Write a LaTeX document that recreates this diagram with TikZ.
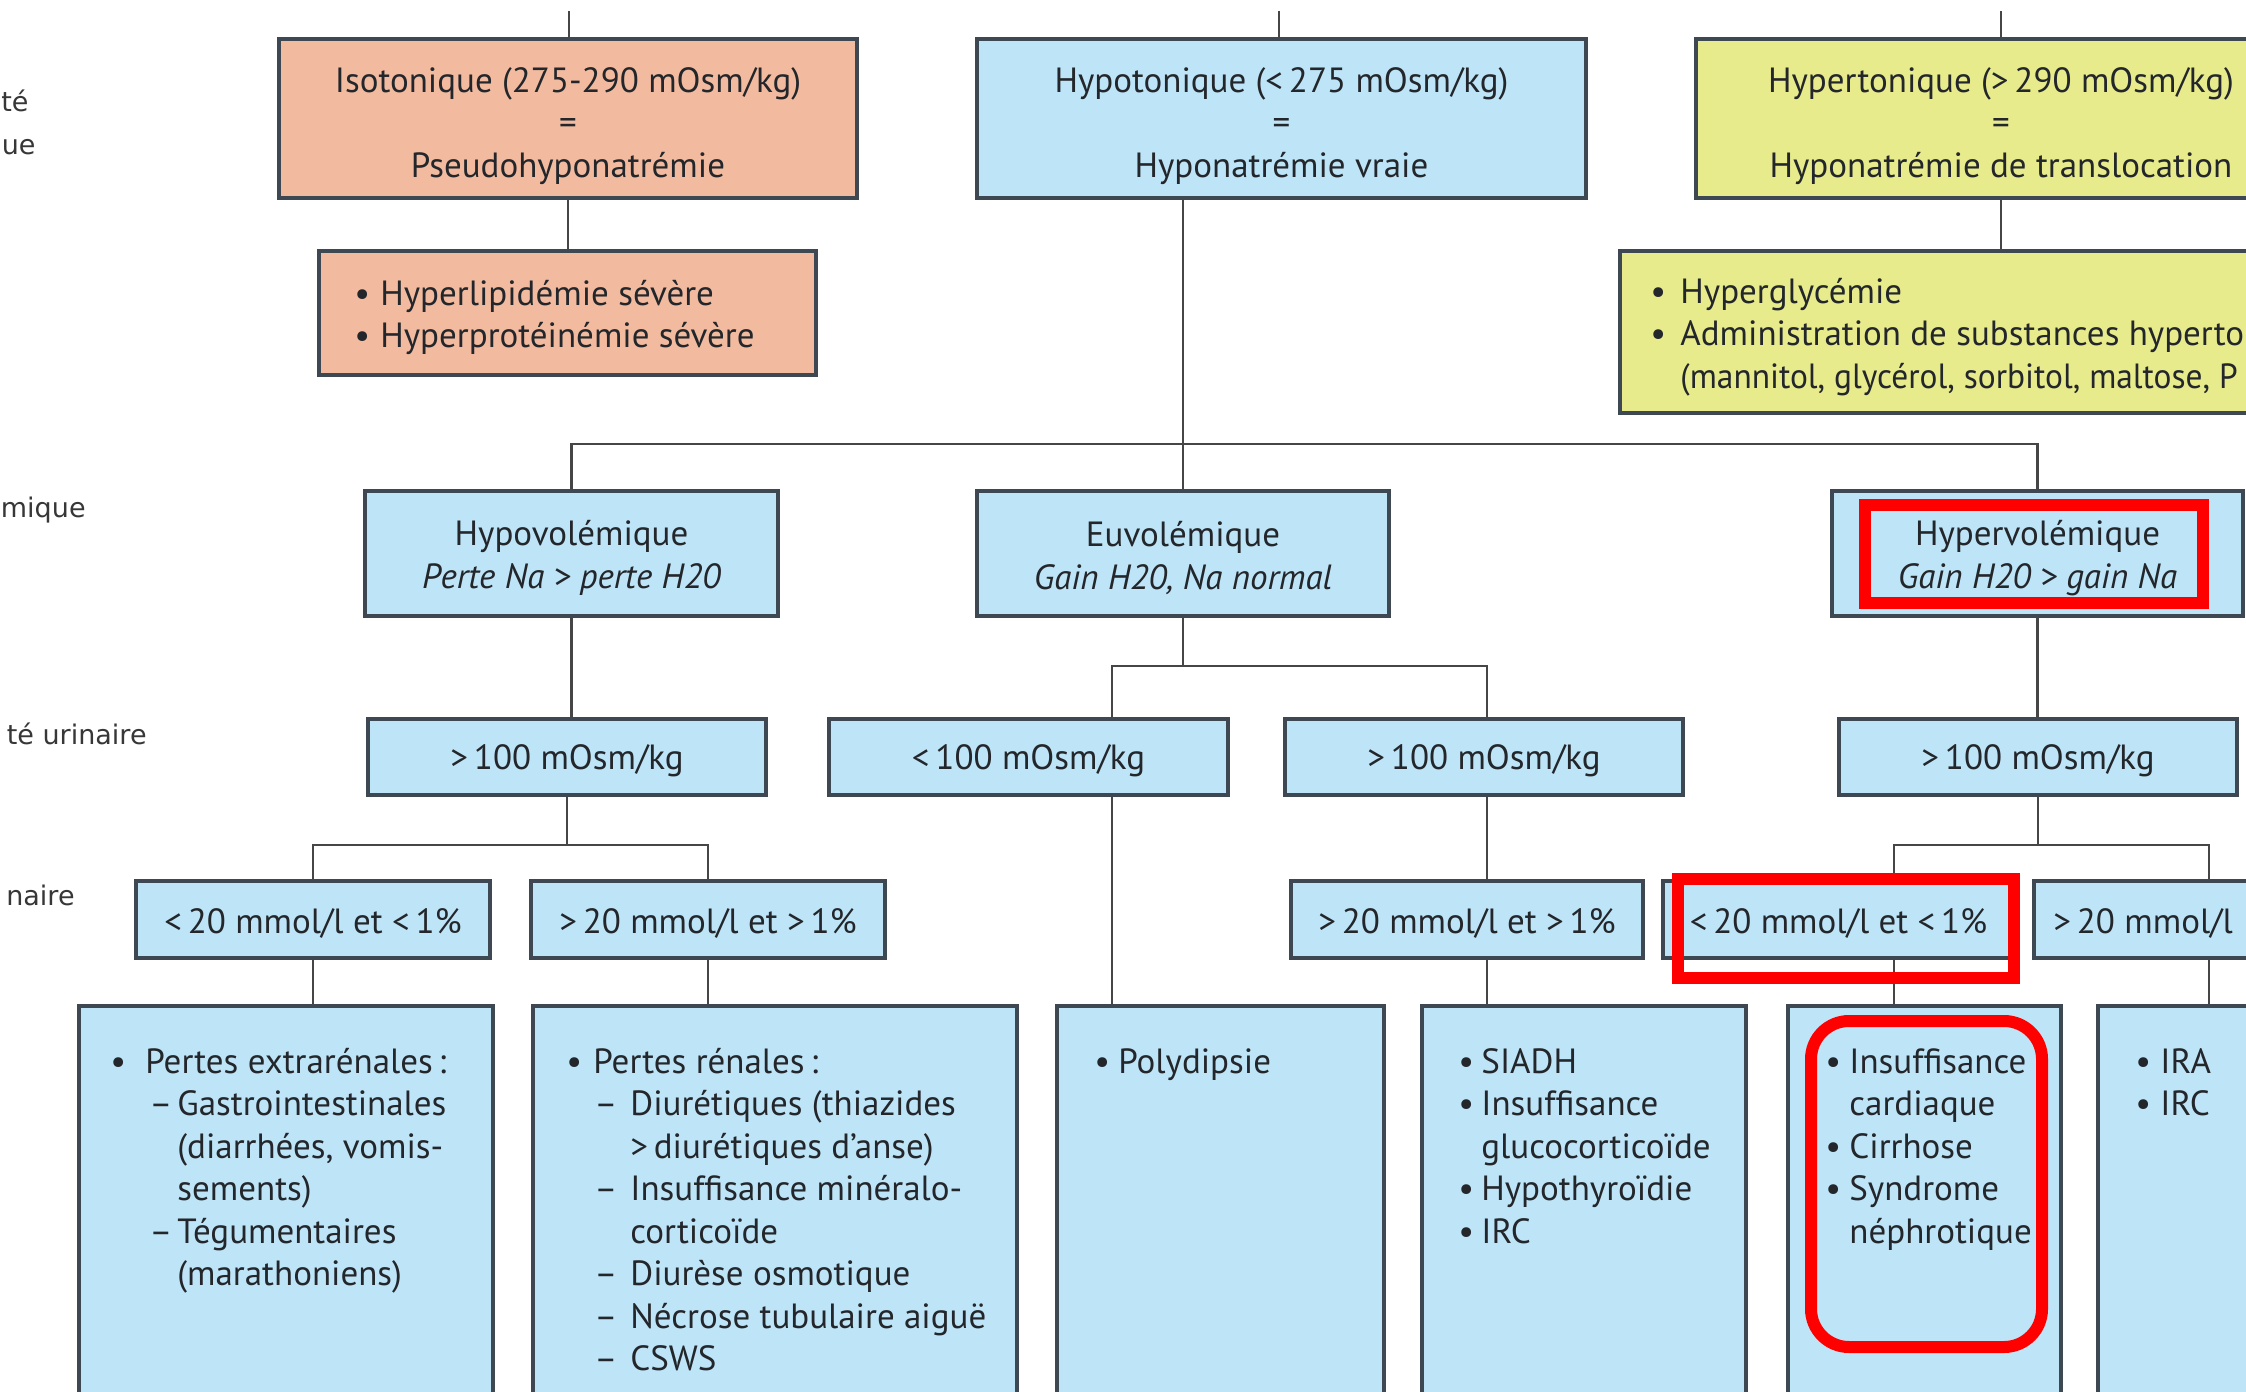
\documentclass[tikz,border=0pt]{standalone}
\usepackage{fontspec}
\usepackage{graphicx}
\setmainfont{PT Sans}
\newfontfamily\lblfont{DejaVu Sans}
\definecolor{orgc}{RGB}{242,187,160}
\definecolor{bluc}{RGB}{190,228,247}
\definecolor{yelc}{RGB}{231,235,140}
\definecolor{bordc}{RGB}{62,72,82}
\definecolor{linec}{RGB}{70,70,70}
\definecolor{textc}{RGB}{35,38,42}
\definecolor{redc}{RGB}{255,0,0}
\definecolor{sidec}{RGB}{55,55,55}
\newcommand\boxfont{\fontsize{17.5pt}{21.25pt}\selectfont}
\newcommand\sidefont{\lblfont\fontsize{13.5pt}{16pt}\selectfont}
\newcommand\itembul[1]{\makebox[#1][l]{•}}
\newcommand\itemdash[1]{\makebox[#1][l]{–}}
\newcommand\topstrut{\rule{0pt}{14pt}}
\newcommand\lowr[1]{\rule{0pt}{#1}}
\newcommand\drbox[7]{%
  \pgfmathsetmacro\bxw{(#5-#3)*0.5}%
  \pgfmathsetmacro\bxh{(#6-#4)*0.5}%
  \node[#1, minimum width=\bxw pt, minimum height=\bxh pt] (#2) at ({(#3+#5)/2},{(#4+#6)/2}) {#7};}
\tikzset{
  box/.style={draw=bordc, line width=1.6pt, inner sep=0pt, align=center, font=\boxfont, text=textc},
  org/.style={box, fill=orgc},
  blu/.style={box, fill=bluc},
  yel/.style={box, fill=yelc},
  conn/.style={draw=linec, line width=1.2pt},
  redmark/.style={draw=redc, line width=6pt},
  list/.style={anchor=north west, inner sep=0pt, align=left, font=\boxfont, text=textc},
  side/.style={anchor=base east, inner sep=0pt, font=\sidefont, text=sidec}
}
\begin{document}
\begin{tikzpicture}[x=0.5pt,y=-0.5pt]
\useasboundingbox (0,0) rectangle (2246,1391);
\fill[white] (0,0) rectangle (2246,1391);
\clip (0,0) rectangle (2246,1391);

% side labels (cut off at left edge in the reference)
\node[side] (s1) at (29,112) {té};
\node[side] (s2) at (36,155) {ue};
\node[side] (s3) at (86,517) {mique};
\node[side] (s4) at (147,744) {té urinaire};
\node[side] (s5) at (75,905) {naire};

% row 1
\drbox{org}{iso}{279}{39}{857}{198}{\lowr{20pt}Isotonique (275-290 mOsm/kg)\\=\\Pseudohyponatrémie}
\drbox{blu}{hypo}{977}{39}{1586}{198}{\lowr{20pt}Hypotonique (<\,275 mOsm/kg)\\=\\Hyponatrémie vraie}
\drbox{yel}{hyper}{1696}{39}{2306}{198}{\lowr{20pt}Hypertonique (>\,290 mOsm/kg)\\=\\Hyponatrémie de translocation}
% row 2
\drbox{org}{isoc}{319}{251}{816}{375}{}
\drbox{yel}{hyperc}{1620}{251}{2400}{413}{}
\node[list] (isotxt) at (354,277) {\topstrut\itembul{13pt}Hyperlipidémie sévère\\\itembul{13pt}Hyperprotéinémie sévère};
\node[list] (hypertxt) at (1650,275) {\topstrut\itembul{15pt}Hyperglycémie\\\itembul{15pt}Administration de substances hyperto\\\hspace*{15pt}\scalebox{0.955}[1]{(mannitol, glycérol, sorbitol, maltose, P}};
% row 3
\drbox{blu}{hypov}{365}{491}{778}{616}{\lowr{17pt}Hypovolémique\\\textit{Perte Na > perte H20}}
\drbox{blu}{euvol}{977}{491}{1389}{616}{\lowr{17pt}Euvolémique\\\textit{Gain H20, Na normal}}
\drbox{blu}{hyperv}{1832}{491}{2243}{616}{\lowr{17pt}Hypervolémique\\\textit{Gain H20 > gain Na}}
% row 4
\drbox{blu}{hyposm}{368}{719}{766}{795}{\lowr{16.5pt}>\,100 mOsm/kg}
\drbox{blu}{euosmlo}{829}{719}{1228}{795}{\lowr{16.5pt}<\,100 mOsm/kg}
\drbox{blu}{euosmhi}{1285}{719}{1683}{795}{\lowr{16.5pt}>\,100 mOsm/kg}
\drbox{blu}{hyperosm}{1839}{719}{2237}{795}{\lowr{16.5pt}>\,100 mOsm/kg}
% row 5
\drbox{blu}{naA}{136}{881}{490}{958}{\lowr{16pt}<\,20 mmol/l et <\,1\%}
\drbox{blu}{naB}{531}{881}{885}{958}{\lowr{16pt}>\,20 mmol/l et >\,1\%}
\drbox{blu}{naC}{1291}{881}{1643}{958}{\lowr{16pt}>\,20 mmol/l et >\,1\%}
\drbox{blu}{naD}{1663}{881}{2014}{958}{\lowr{16pt}<\,20 mmol/l et <\,1\%}
\drbox{blu}{naE}{2034}{881}{2400}{958}{}
\node[anchor=base west, inner sep=0pt, font=\boxfont, text=textc] (naEtxt) at (2053,933) {>\,20 mmol/l};
% row 6
\drbox{blu}{cA}{79}{1006}{493}{1450}{}
\drbox{blu}{cB}{533}{1006}{1017}{1450}{}
\drbox{blu}{cC}{1057}{1006}{1384}{1450}{}
\drbox{blu}{cD}{1422}{1006}{1746}{1450}{}
\drbox{blu}{cE}{1788}{1006}{2061}{1450}{}
\drbox{blu}{cF}{2098}{1006}{2500}{1450}{}
\node[list] (tA) at (110,1045) {\topstrut\itembul{17.5pt}Pertes extrarénales\,:\\\hspace*{19.5pt}\itemdash{14pt}Gastrointestinales\\\hspace*{33.5pt}(diarrhées, vomis-\\\hspace*{33.5pt}sements)\\\hspace*{19.5pt}\itemdash{14pt}Tégumentaires\\\hspace*{33.5pt}(marathoniens)};
\node[list] (tB) at (566,1045) {\topstrut\itembul{13.5pt}Pertes rénales\,:\\\hspace*{14pt}\itemdash{18pt}Diurétiques (thiazides\\\hspace*{32pt}>\,diurétiques d’anse)\\\hspace*{14pt}\itemdash{18pt}Insuffisance minéralo-\\\hspace*{32pt}corticoïde\\\hspace*{14pt}\itemdash{18pt}Diurèse osmotique\\\hspace*{14pt}\itemdash{18pt}Nécrose tubulaire aiguë\\\hspace*{14pt}\itemdash{18pt}CSWS};
\node[list] (tC) at (1094,1045) {\topstrut\itembul{12pt}Polydipsie};
\node[list] (tD) at (1458,1045) {\topstrut\itembul{11.5pt}SIADH\\\itembul{11.5pt}Insuffisance\\\hspace*{11.5pt}glucocorticoïde\\\itembul{11.5pt}Hypothyroïdie\\\itembul{11.5pt}IRC};
\node[list] (tE) at (1825,1045) {\topstrut\itembul{12pt}Insuffisance\\\hspace*{12pt}cardiaque\\\itembul{12pt}Cirrhose\\\itembul{12pt}Syndrome\\\hspace*{12pt}néphrotique};
\node[list] (tF) at (2135,1045) {\topstrut\itembul{12.5pt}IRA\\\itembul{12.5pt}IRC};

% connectors
\coordinate (t1) at (569,11);
\coordinate (t2) at (1279,11);
\coordinate (t3) at (2001,11);
\draw[conn] (t1) -- (t1 |- iso.north);
\draw[conn] (t2) -- (t2 |- hypo.north);
\draw[conn] (t3) -- (t3 |- hyper.north);
\draw[conn] (iso.south) -- (iso.south |- isoc.north);
\draw[conn] (hyper.south) -- (hyper.south |- hyperc.north);
\draw[conn] (euvol.north |- hypo.south) -- (euvol.north);
\coordinate (vbar) at (0,444);
\draw[conn] (hypov.north) -- (hypov.north |- vbar) -- (hyperv.north |- vbar) -- (hyperv.north);
\draw[conn] (hypov.south) -- (hypov.south |- hyposm.north);
\coordinate (eL) at (1112,666);
\coordinate (eR) at (1487,666);
\draw[conn] (euvol.south) -- (euvol.south |- eL);
\draw[conn] (eL |- euosmlo.north) -- (eL) -- (eR) -- (eR |- euosmhi.north);
\draw[conn] (hyperv.south) -- (hyperv.south |- hyperosm.north);
\coordinate (hb) at (0,845);
\draw[conn] (hyposm.south) -- (hyposm.south |- hb);
\draw[conn] (naA.north) -- (naA.north |- hb) -- (naB.north |- hb) -- (naB.north);
\draw[conn] (eL |- euosmlo.south) -- (eL |- cC.north);
\draw[conn] (eR |- euosmhi.south) -- (eR |- naC.north);
\draw[conn] (eR |- naC.south) -- (eR |- cD.north);
\coordinate (hL) at (1894,845);
\coordinate (hR) at (2209,845);
\draw[conn] (hyperosm.south) -- (hyperosm.south |- hL);
\draw[conn] (hL |- naD.north) -- (hL) -- (hR) -- (hR |- naE.north);
\draw[conn] (naA.south) -- (naA.south |- cA.north);
\draw[conn] (naB.south) -- (naB.south |- cB.north);
\draw[conn] (hL |- naD.south) -- (hL |- cE.north);
\draw[conn] (hR |- naE.south) -- (hR |- cF.north);

% red annotations
\draw[redmark] (1865,505) rectangle (2203,603);
\draw[redmark] (1678,879) rectangle (2014,978);
\draw[redmark, rounded corners=19pt] (1811,1021) rectangle (2042,1347);
\end{tikzpicture}
\end{document}
